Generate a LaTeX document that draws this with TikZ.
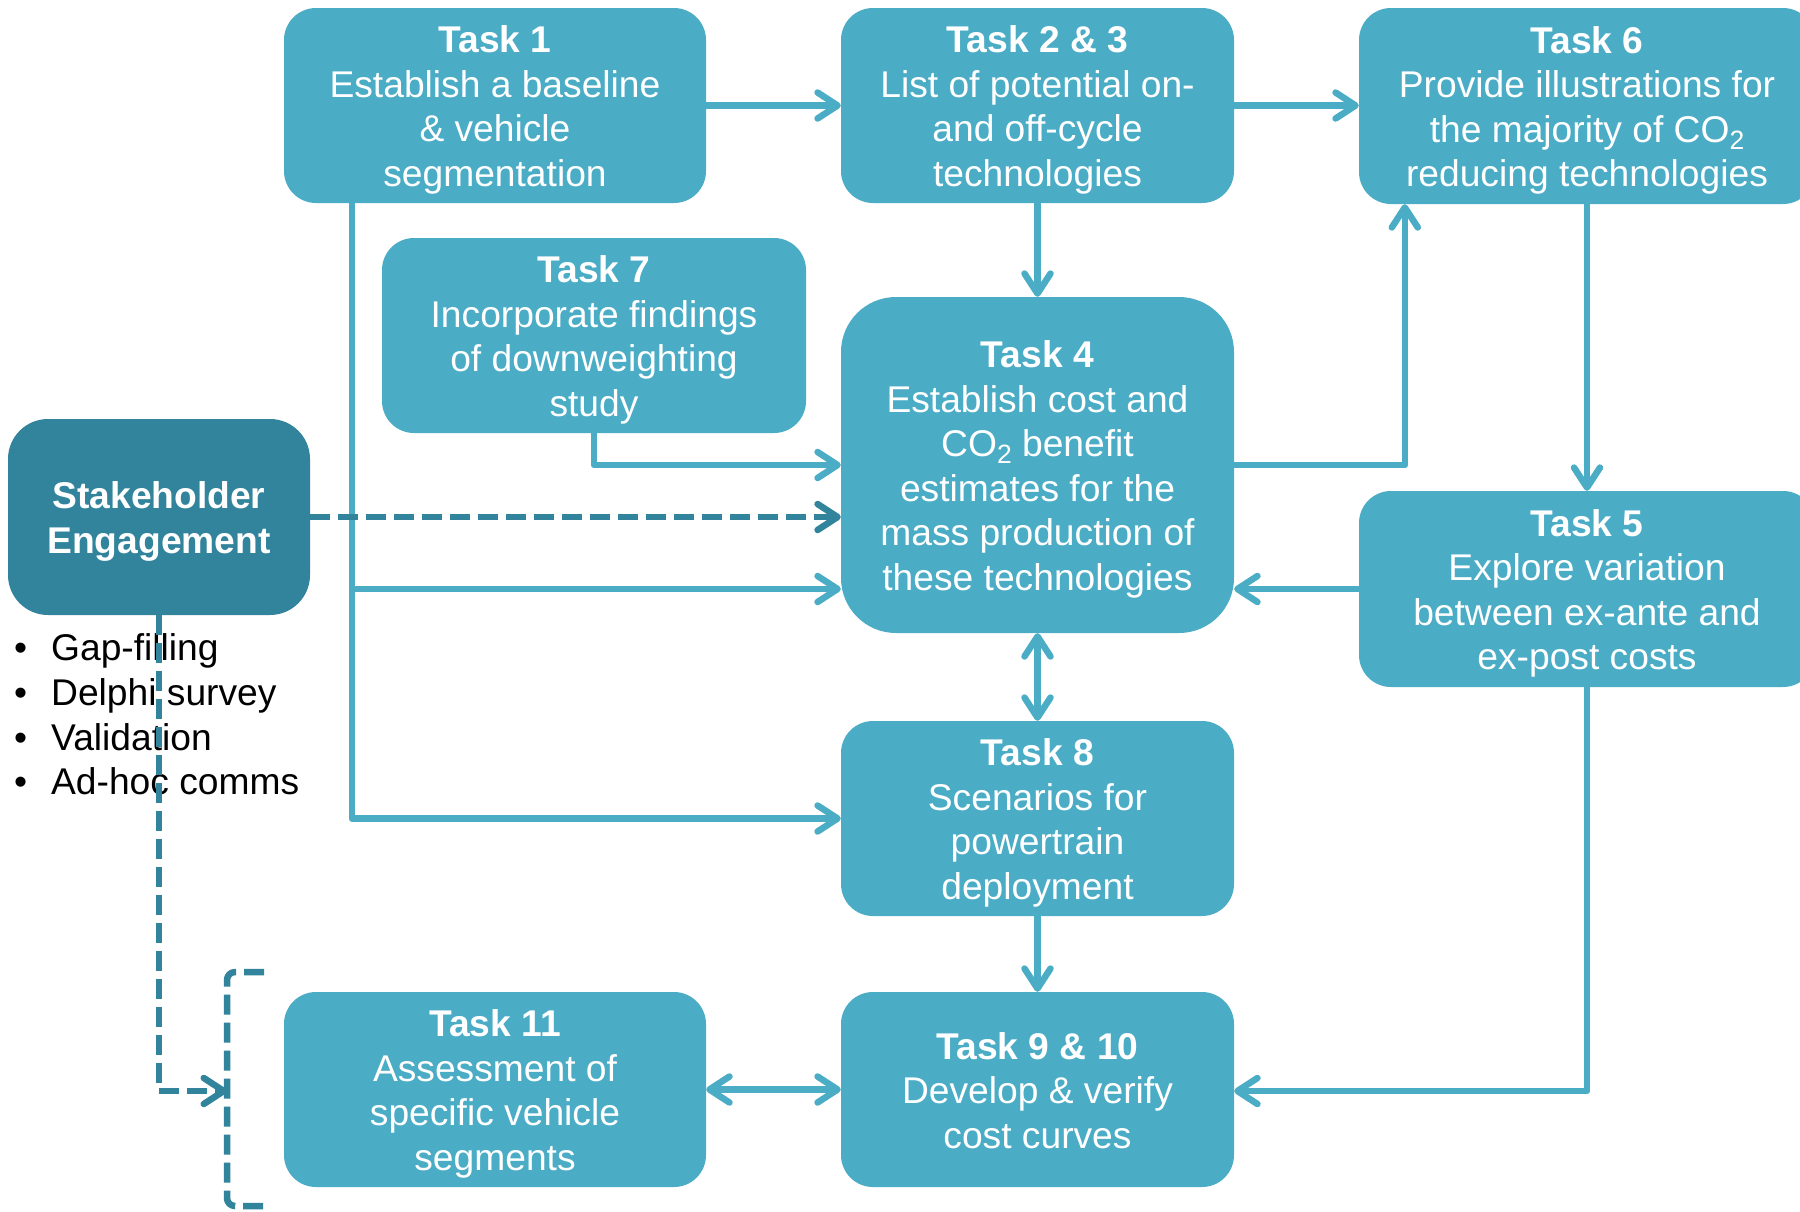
\documentclass[tikz,border=0pt]{standalone}
\usepackage{fontspec}
\setmainfont{Liberation Sans}
\usetikzlibrary{arrows.meta,calc}
\definecolor{taskblue}{HTML}{4BACC6}
\definecolor{deepteal}{HTML}{31849B}
% CO2 with a lowered, smaller subscript
\newcommand\cotwo{CO\raisebox{-7pt}{\fontsize{26.5}{26.5}\selectfont 2}}
% fixed first-line height and last-line depth keep every text block at the same offset
\newcommand\firstline{\rule{0pt}{38pt}}
\newcommand\lastline{\rule[-10pt]{0pt}{10pt}}
\begin{document}
\begin{tikzpicture}[x=1pt,y=-1pt,
  >={Straight Barb[length=20pt,width=26pt,round]},
  box/.style={fill=taskblue, text=white, rounded corners=32pt, inner sep=0pt,
    align=center, font=\fontsize{37.2}{44.5}\selectfont},
  keybox/.style={box, fill=deepteal, rounded corners=40pt},
  conn/.style={draw=taskblue, line width=6.5pt, line join=round},
  dconn/.style={draw=deepteal, line width=6.5pt, line join=round,
    dash pattern=on 20pt off 8pt},
  bullet/.style={anchor=base west, inner sep=0pt, text=black,
    font=\fontsize{37.2}{44.5}\selectfont}]
\path[use as bounding box] (0,0) rectangle (1800,1211);
\fill[white] (0,0) rectangle (1800,1211);
\clip (0,0) rectangle (1800,1211);

% task boxes
\node[box, minimum width=422pt, minimum height=195pt] (t1) at (495,105.5)
  {\firstline\textbf{Task 1}\\Establish a baseline\\\& vehicle\\segmentation\lastline};
\node[box, minimum width=393pt, minimum height=195pt] (t23) at (1037.5,105.5)
  {\firstline\textbf{Task 2 \& 3}\\List of potential on-\\and off-cycle\\technologies\lastline};
\node[box, minimum width=456pt, minimum height=196pt] (t6) at (1587,106)
  {\firstline\textbf{Task 6}\\Provide illustrations for\\the majority of \cotwo\\reducing technologies\lastline};
\node[box, minimum width=424pt, minimum height=195pt] (t7) at (594,335.5)
  {\firstline\textbf{Task 7}\\Incorporate findings\\of downweighting\\study\lastline};
\node[box, rounded corners=55pt, minimum width=393pt, minimum height=336pt] (t4) at (1037.5,465)
  {\firstline\textbf{Task 4}\\Establish cost and\\\cotwo{} benefit\\estimates for the\\mass production of\\these technologies\lastline};
\node[box, minimum width=456pt, minimum height=196pt] (t5) at (1587,589)
  {\firstline\textbf{Task 5}\\Explore variation\\between ex-ante and\\ex-post costs\lastline};
\node[box, minimum width=393pt, minimum height=195pt] (t8) at (1037.5,818.5)
  {\firstline\textbf{Task 8}\\Scenarios for\\powertrain\\deployment\lastline};
\node[box, minimum width=393pt, minimum height=195pt] (t910) at (1037.5,1089.5)
  {\firstline\textbf{Task 9 \& 10}\\Develop \& verify\\cost curves\lastline};
\node[box, minimum width=422pt, minimum height=195pt] (t11) at (495,1089.5)
  {\firstline\textbf{Task 11}\\Assessment of\\specific vehicle\\segments\lastline};
\node[keybox, minimum width=302pt, minimum height=196pt] (sh) at (159,517)
  {\firstline\textbf{Stakeholder}\\\textbf{Engagement}\lastline};

% engagement activities
\node[bullet] (b1) at (14,660) {\makebox[37pt][l]{•}Gap-filling};
\node[bullet] (b2) at (14,705) {\makebox[37pt][l]{•}Delphi survey};
\node[bullet] (b3) at (14,750) {\makebox[37pt][l]{•}Validation};
\node[bullet] (b4) at (14,794) {\makebox[37pt][l]{•}Ad-hoc comms};

% solid task links
\draw[conn,->] (t1.east) -- (t1.east -| t23.west);
\draw[conn,->] (t23.east) -- (t23.east -| t6.west);
\draw[conn,->] (t23.south) -- (t4.north);
\draw[conn,->] ($(t1.south west)+(68,0)$) |- (t8.west);
\draw[conn,->] ($(t1.south west)+(68,0)$) |- ($(t4.west)+(0,124)$);
\draw[conn,->] (t7.south) |- (t4.west);
\draw[conn,->] (t4.east) -| ($(t6.south west)+(46,0)$);
\draw[conn,->] (t6.south) -- (t5.north);
\draw[conn,->] (t5.west) -- (t5.west -| t4.east);
\draw[conn,<->] (t4.south) -- (t8.north);
\draw[conn,->] (t8.south) -- (t910.north);
\draw[conn,<->] (t11.east) -- (t910.west);
\draw[conn,->] (t5.south) |- ($(t910.east)+(0,1.5)$);

% stakeholder links and bracket round Task 11
\coordinate (brk) at (227,1091);
\draw[dconn,->] (sh.east) -- (sh.east -| t4.west);
\draw[dconn,->] (sh.south) |- (brk);
\draw[dconn, rounded corners=8pt] (264,972) -- (227,972) -- (227,1206) -- (264,1206);
\end{tikzpicture}
\end{document}
